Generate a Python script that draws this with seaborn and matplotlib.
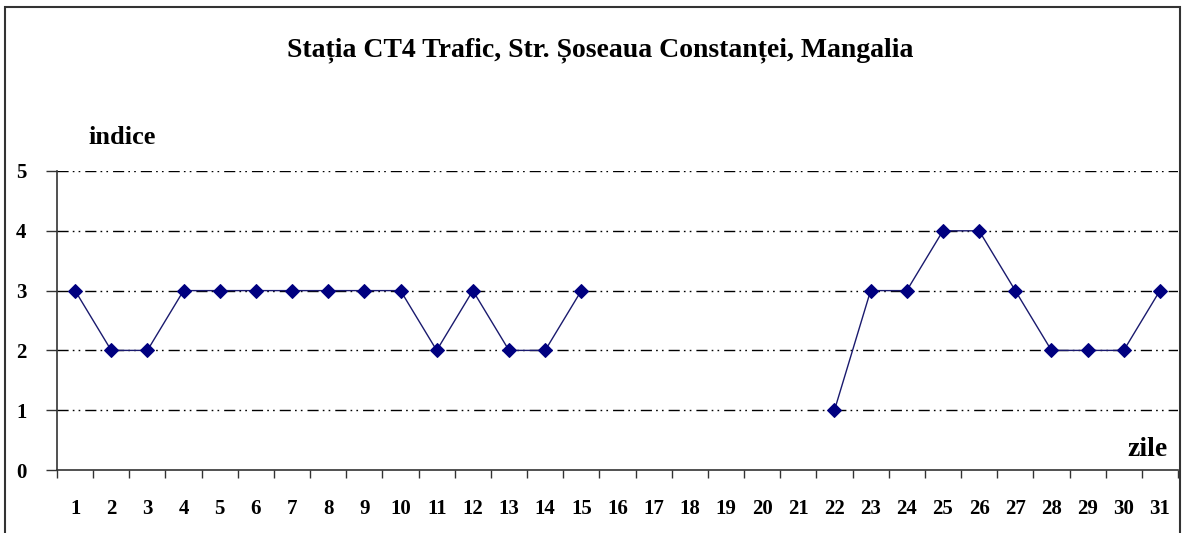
import numpy as np
import pandas as pd
import seaborn as sns
import matplotlib.pyplot as plt
from matplotlib.patches import Rectangle

# data
days_a = [1, 2, 3, 4, 5, 6, 7, 8, 9, 10, 11, 12, 13, 14, 15]
index_a = [3, 2, 2, 3, 3, 3, 3, 3, 3, 3, 2, 3, 2, 2, 3]
days_b = [22, 23, 24, 25, 26, 27, 28, 29, 30, 31]
index_b = [1, 3, 3, 4, 4, 3, 2, 2, 2, 3]
day_labels = [str(d) for d in range(1, 32)]
y_ticks = [0, 1, 2, 3, 4, 5]

title = "Stația CT4 Trafic, Str. Șoseaua Constanței, Mangalia"

df = pd.DataFrame({
    'zi': days_a + days_b,
    'indice': index_a + index_b,
    'segment': ['a'] * len(days_a) + ['b'] * len(days_b),
})

sns.set_style("white")
plt.rcParams['font.family'] = ['Liberation Serif', 'DejaVu Serif']
plt.rcParams['font.weight'] = 'bold'
plt.rcParams['text.color'] = 'black'
plt.rcParams['xtick.color'] = 'black'
plt.rcParams['ytick.color'] = 'black'

fig = plt.figure(figsize=(11.85, 5.33), dpi=100)
ax = fig.add_axes([57 / 1185, 1 - 470 / 533, (1178 - 57) / 1185, (470 - 171) / 533])

# grid lines (dash-dot-dot)
for y in y_ticks[1:]:
    ax.axhline(y, color='black', lw=1, ls=(0, (8, 3, 1.2, 3, 1.2, 3.6)), zorder=1)

sns.lineplot(data=df, x='zi', y='indice', units='segment', estimator=None,
             color='#1a1a6e', lw=1, marker='D', markersize=7,
             markerfacecolor='#000080', markeredgecolor='#000080', ax=ax, zorder=3)

ax.set_xlim(0.5, 31.5)
ax.set_ylim(0, 5)
ax.set_xticks(np.arange(0.5, 32, 1))
ax.set_xticklabels([])
ax.set_xticks(range(1, 32), minor=True)
ax.set_xticklabels(day_labels, minor=True)
ax.tick_params(axis='x', which='major', direction='out', length=6, width=1, color='#333333', bottom=True)
ax.tick_params(axis='x', which='minor', length=0, pad=21, labelsize=15, labelcolor='black')
ax.set_yticks(y_ticks)
ax.tick_params(axis='y', direction='out', length=8, width=1, color='#333333', left=True,
               labelsize=15, pad=14, labelcolor='black')
ax.set_xlabel('')
ax.set_ylabel('')

for s in ['top', 'right']:
    ax.spines[s].set_visible(False)
for s in ['left', 'bottom']:
    ax.spines[s].set_color('#333333')
    ax.spines[s].set_linewidth(1.2)

fig.text(600 / 1185, 1 - 50 / 533, title, ha='center', va='center', fontsize=20, fontweight='bold')
fig.text(88 / 1185, 1 - 138 / 533, 'indice', ha='left', va='center', fontsize=19, fontweight='bold')
fig.text(1168 / 1185, 1 - 450 / 533, 'zile', ha='right', va='center', fontsize=20, fontweight='bold')

# outer frame
fig.patches.append(Rectangle((5 / 1185, -0.02), 1175 / 1185, 1 - 7 / 533 + 0.02,
                             transform=fig.transFigure, fill=False, ec='#333333', lw=1.5))

fig.savefig('out.png', dpi=100)
